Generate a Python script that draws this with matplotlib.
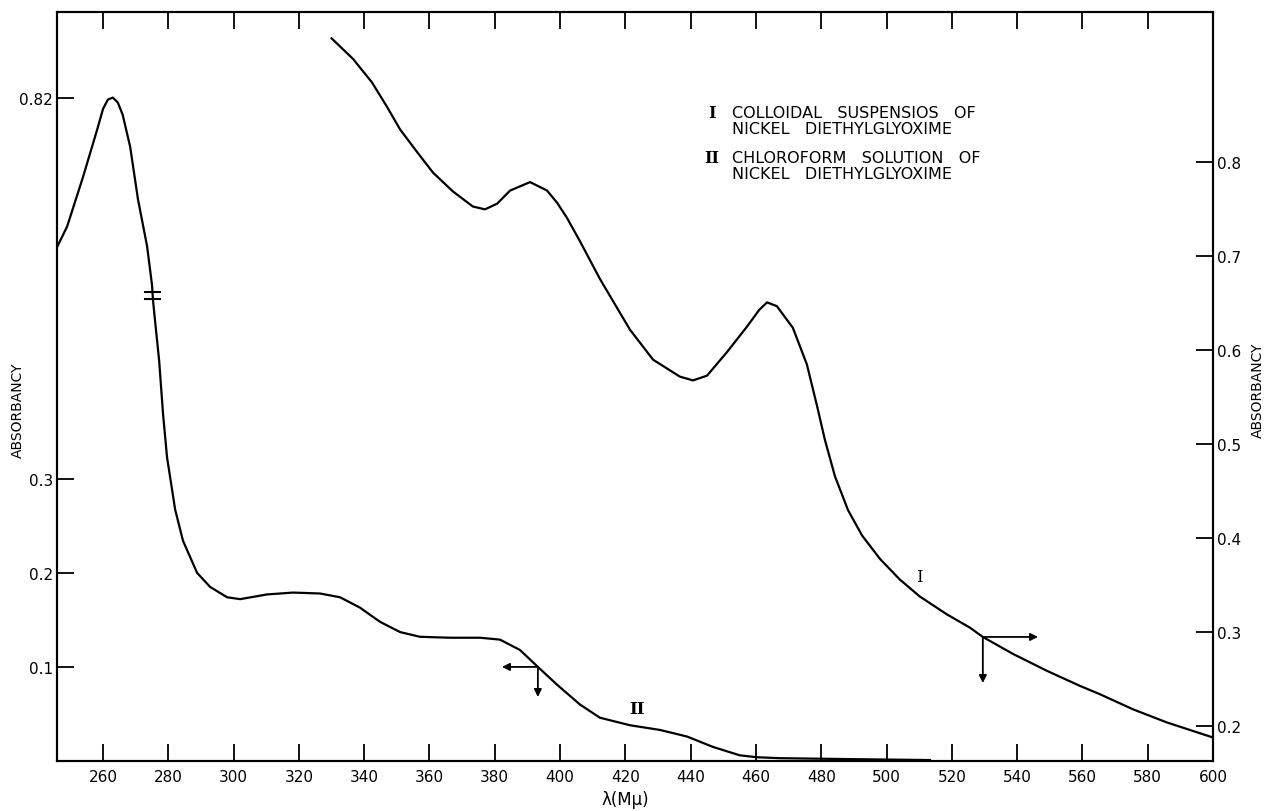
import numpy as np
import matplotlib
matplotlib.use('Agg')
import matplotlib.pyplot as plt
import matplotlib.transforms as mtrans
from matplotlib.ticker import FixedLocator, FixedFormatter

# Curve I : colloidal suspension (right axis)
wl_I = [330.0, 336.6, 342.4, 347.0, 351.0, 356.2, 361.1, 367.2, 373.3, 377.0,
        380.7, 384.7, 390.8, 396.0, 399.1, 402.1, 406.1, 412.2, 421.4, 428.5,
        436.7, 440.7, 445.0, 451.1, 457.2, 461.0, 463.4, 466.4, 471.3, 475.6,
        478.7, 481.1, 484.2, 488.2, 492.5, 498.0, 504.1, 510.2, 518.5, 525.5,
        529.5, 538.7, 549.1, 559.2, 565.4, 575.5, 585.9, 600.0]
abs_I = [0.932, 0.910, 0.885, 0.859, 0.835, 0.811, 0.789, 0.769, 0.753, 0.750,
         0.756, 0.770, 0.779, 0.770, 0.757, 0.741, 0.716, 0.676, 0.622, 0.590,
         0.572, 0.568, 0.573, 0.598, 0.625, 0.643, 0.651, 0.647, 0.624, 0.585,
         0.541, 0.505, 0.466, 0.430, 0.403, 0.378, 0.356, 0.338, 0.319, 0.305,
         0.295, 0.277, 0.259, 0.243, 0.234, 0.218, 0.204, 0.188]

# Curve II : chloroform solution (left axis, broken)
wl_II = [245.9, 249.0, 253.9, 258.2, 260.0, 261.5, 263.0, 264.5, 266.0, 268.3,
         270.7, 273.5, 275.0, 275.3, 275.9, 277.2, 278.4, 279.6, 282.1, 284.5,
         288.8, 292.8, 298.0, 302.0, 310.2, 318.2, 326.5, 332.6, 338.7, 344.8,
         351.0, 357.1, 366.3, 375.5, 381.6, 387.7, 393.2, 399.1, 406.1, 412.2,
         421.4, 430.6, 438.9, 446.8, 455.1, 460.3, 467.3, 488.8, 513.3]
abs_II = [0.661, 0.683, 0.736, 0.786, 0.808, 0.818, 0.820, 0.815, 0.802, 0.768,
          0.712, 0.662, 0.621, 0.490, 0.469, 0.425, 0.368, 0.323, 0.267, 0.234,
          0.200, 0.185, 0.174, 0.172, 0.177, 0.179, 0.178, 0.174, 0.163, 0.148,
          0.137, 0.132, 0.131, 0.131, 0.129, 0.118, 0.100, 0.081, 0.060, 0.046,
          0.038, 0.033, 0.026, 0.015, 0.006, 0.004, 0.003, 0.002, 0.001]

x_ticks = list(range(260, 601, 20))
left_ticks = [0.1, 0.2, 0.3, 0.82]
left_labels = ['0.1', '0.2', '0.3', '0.82']
right_ticks = [0.2, 0.3, 0.4, 0.5, 0.6, 0.7, 0.8]
right_labels = ['0.2', '0.3', '0.4', '0.5', '0.6', '0.7', '0.8']

legend_lines = [('I', 'COLLOIDAL   SUSPENSIOS   OF'),
                ('', 'NICKEL   DIETHYLGLYOXIME'),
                ('II', 'CHLOROFORM   SOLUTION   OF'),
                ('', 'NICKEL   DIETHYLGLYOXIME')]

# left axis break: values between BREAK_LO and BREAK_HI are cut out
BREAK_LO = 0.495
GAP = 0.115
BREAK_HI = BREAK_LO + GAP
break_wl = 275.1


def fwd(v):
    v = np.asarray(v, dtype=float)
    return np.where(v >= BREAK_HI, v - GAP, np.minimum(v, BREAK_LO))


def inv(d):
    d = np.asarray(d, dtype=float)
    return np.where(d > BREAK_LO, d + GAP, d)


fig = plt.figure(figsize=(12.72, 8.12), dpi=100)
fig.set_facecolor('white')
ax = fig.add_axes([57 / 1272, 1 - 762 / 812, (1213 - 57) / 1272, (762 - 13) / 812])
ax.set_yscale('function', functions=(fwd, inv))
ax2 = ax.twinx()

ax.plot(wl_II, abs_II, color='black', lw=1.6)
ax2.plot(wl_I, abs_I, color='black', lw=1.6)

ax.set_xlim(245.9, 600)
ax.set_ylim(0, 0.911)
ax2.set_ylim(0.163, 0.960)

for a in (ax, ax2):
    for s in a.spines.values():
        s.set_linewidth(1.5)

ax.set_xticks(x_ticks)
ax.set_xticklabels([str(t) for t in x_ticks])
ax.tick_params(axis='x', direction='in', top=True, length=12, width=1.3,
               labelsize=11, pad=6)
ax.yaxis.set_major_locator(FixedLocator(left_ticks))
ax.yaxis.set_major_formatter(FixedFormatter(left_labels))
ax.yaxis.set_minor_locator(FixedLocator([]))
ax.tick_params(axis='y', direction='in', length=12, width=1.3, labelsize=11, pad=3)

ax2.set_yticks(right_ticks)
ax2.set_yticklabels(right_labels)
ax2.tick_params(axis='y', direction='in', length=12, width=1.3, labelsize=11, pad=3)

# break marker on curve II
for dy in (-4, 3):
    shift = mtrans.ScaledTranslation(0, dy / 100, fig.dpi_scale_trans)
    ax.plot([break_wl - 2.3, break_wl + 2.3], [BREAK_LO, BREAK_LO], color='black',
            lw=1.5, transform=ax.transData + shift)

# arrows pointing to the axis each curve uses
arrow_kw = dict(arrowstyle='-|>', color='black', lw=1.3, mutation_scale=11,
                shrinkA=0, shrinkB=0)
ax.annotate('', xy=(382.2, 0.100), xytext=(393.2, 0.100), arrowprops=arrow_kw)
ax.annotate('', xy=(393.2, 0.068), xytext=(393.2, 0.100), arrowprops=arrow_kw)
ax2.annotate('', xy=(546.4, 0.295), xytext=(529.5, 0.295), arrowprops=arrow_kw)
ax2.annotate('', xy=(529.5, 0.246), xytext=(529.5, 0.295), arrowprops=arrow_kw)

ax2.text(510.2, 0.359, 'I', fontsize=12, family='DejaVu Serif', ha='center', va='center')
ax.text(423.6, 0.056, 'II', fontsize=12, family='DejaVu Serif', fontweight='bold',
        ha='center', va='center')

# legend block
ys = [114, 129, 159, 175]
for (num, txt), y in zip(legend_lines, ys):
    if num:
        fig.text(712 / 1272, 1 - y / 812, num, fontsize=11.5, family='DejaVu Serif',
                 fontweight='bold', ha='center', va='center')
    fig.text(732 / 1272, 1 - y / 812, txt, fontsize=11.5, ha='left', va='center')

fig.text(18 / 1272, 1 - 410 / 812, 'ABSORBANCY', rotation=90, fontsize=10,
         ha='center', va='center')
fig.text(1258 / 1272, 1 - 390 / 812, 'ABSORBANCY', rotation=90, fontsize=10,
         ha='center', va='center')
fig.text(625 / 1272, 1 - 800 / 812, 'λ(Mμ)', fontsize=12, ha='center', va='center')

fig.savefig('out.png', dpi=100)
